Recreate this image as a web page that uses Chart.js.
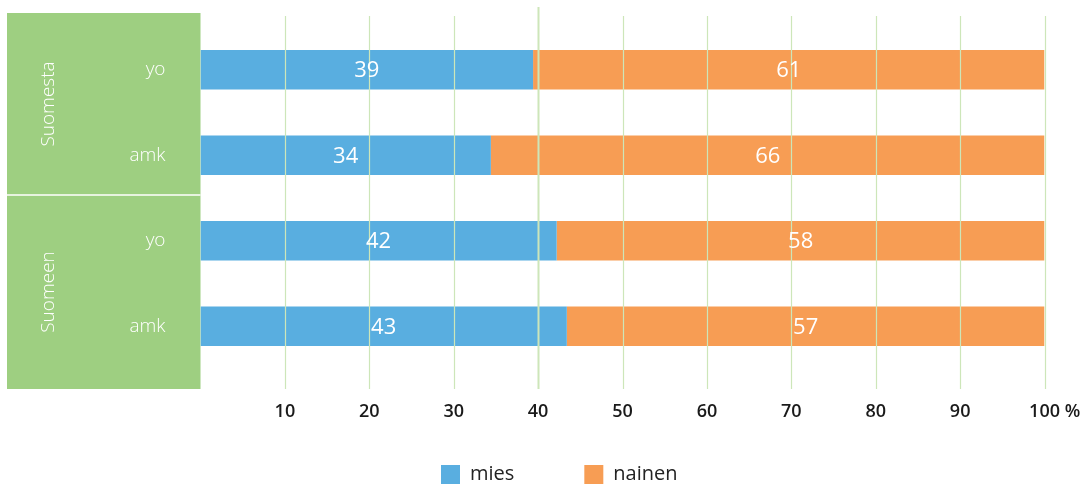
<!DOCTYPE html>
<html>
<head>
<meta charset="utf-8">
<script src="https://cdn.jsdelivr.net/npm/chart.js@4"></script>
<style>
  html, body { margin: 0; padding: 0; background: #fff; }
  #wrap { width: 1092px; height: 490px; position: relative; }
</style>
</head>
<body>
<div id="wrap"><canvas id="c"></canvas></div>
<script>
const groups = ['Suomesta', 'Suomeen'];
const categories = ['yo', 'amk', 'yo', 'amk'];
const seriesNames = ['mies', 'nainen'];
const miesValues = [39.4, 34.4, 42.2, 43.4];
const nainenValues = [60.6, 65.6, 57.8, 56.6];
const tickValues = [10, 20, 30, 40, 50, 60, 70, 80, 90, 100];
const tickSuffix = '%';

const BLUE = '#59aee0';
const ORANGE = '#f79d54';
const PANEL = '#9ecf81';
const GRID = '#cde6b9';
const FONT = "'Open Sans', 'DejaVu Sans', sans-serif";

const panelPlugin = {
  id: 'panel',
  afterLayout(chart) {
    // let the x tick labels draw below the (shortened) axis box
    chart.scales.x.bottom = chart.height;
  },
  beforeDraw(chart) {
    const {ctx, chartArea: ca, scales: {y}} = chart;
    const left = 7, top = ca.top - 14, bottom = ca.bottom + 20, right = ca.left;
    ctx.save();
    ctx.fillStyle = PANEL;
    ctx.fillRect(left, top, right - left, bottom - top);
    const gs = categories.length / groups.length;
    const bounds = [top];
    for (let g = 1; g < groups.length; g++) {
      const yd = (y.getPixelForValue(g * gs - 1) + y.getPixelForValue(g * gs)) / 2 - 3;
      bounds.push(yd);
      ctx.strokeStyle = 'rgba(255,255,255,0.75)';
      ctx.lineWidth = 2;
      ctx.beginPath();
      ctx.moveTo(left, yd);
      ctx.lineTo(right, yd);
      ctx.stroke();
    }
    bounds.push(bottom);
    ctx.fillStyle = '#ffffff';
    ctx.font = '300 19px ' + FONT;
    ctx.textAlign = 'center';
    ctx.textBaseline = 'middle';
    groups.forEach((g, i) => {
      const cy = (bounds[i] + bounds[i + 1]) / 2;
      ctx.save();
      ctx.translate(49, cy);
      ctx.rotate(-Math.PI / 2);
      ctx.fillText(g, 0, 0);
      ctx.restore();
    });
    ctx.restore();
  }
};

const overlayPlugin = {
  id: 'overlay',
  afterDatasetsDraw(chart) {
    const {ctx, chartArea: ca, scales: {x}} = chart;
    ctx.save();
    tickValues.forEach(v => {
      const px = Math.round(x.getPixelForValue(v)) + 0.5;
      const isMain = v === 40;
      ctx.strokeStyle = GRID;
      ctx.lineWidth = isMain ? 2 : 1.2;
      ctx.beginPath();
      ctx.moveTo(px, ca.top - (isMain ? 20 : 11));
      ctx.lineTo(px, ca.bottom + 20);
      ctx.stroke();
    });
    ctx.fillStyle = '#ffffff';
    ctx.font = '22px ' + FONT;
    ctx.textAlign = 'center';
    ctx.textBaseline = 'middle';
    chart.data.datasets.forEach((ds, di) => {
      const meta = chart.getDatasetMeta(di);
      meta.data.forEach((el, i) => {
        const p = el.getCenterPoint();
        ctx.fillText(String(Math.round(ds.data[i])), p.x, p.y + 1);
      });
    });
    ctx.restore();
  },
  afterDraw(chart) {
    const {ctx, chartArea: ca, scales: {x}} = chart;
    const last = tickValues[tickValues.length - 1];
    const px = x.getPixelForValue(last);
    ctx.save();
    ctx.font = '600 18px ' + FONT;
    const w = ctx.measureText(String(last)).width;
    const space = ctx.measureText(' ').width;
    ctx.fillStyle = '#1a1a1a';
    ctx.textAlign = 'left';
    ctx.textBaseline = 'middle';
    ctx.fillText(tickSuffix, px + w / 2 + space, ca.bottom + 32 + 10.8);
    ctx.restore();
  }
};

new Chart(document.getElementById('c'), {
  type: 'bar',
  data: {
    labels: categories,
    datasets: [
      { label: seriesNames[0], data: miesValues, backgroundColor: BLUE, borderWidth: 0 },
      { label: seriesNames[1], data: nainenValues, backgroundColor: ORANGE, borderWidth: 0 }
    ]
  },
  options: {
    indexAxis: 'y',
    responsive: true,
    maintainAspectRatio: false,
    animation: false,
    barPercentage: 0.4625,
    categoryPercentage: 1,
    layout: { padding: { left: 73, right: 46.5, top: 27, bottom: -4.5 } },
    scales: {
      x: {
        stacked: true,
        min: 0,
        max: 100,
        afterBuildTicks: s => { s.ticks = tickValues.map(v => ({ value: v })); },
        afterFit: s => { s.height = 25.5; },
        grid: { display: false, drawTicks: false },
        border: { display: false },
        ticks: {
          padding: 32,
          color: '#1a1a1a',
          font: { family: FONT, size: 18, weight: '600' },
          maxRotation: 0,
          autoSkip: false
        }
      },
      y: {
        stacked: true,
        afterFit: s => { s.width = 127.5; s.paddingTop = 0; s.paddingBottom = 0; },
        grid: { display: false, drawTicks: false },
        border: { display: false },
        ticks: {
          padding: 35,
          color: '#ffffff',
          font: { family: FONT, size: 19, weight: '300' }
        }
      }
    },
    plugins: {
      tooltip: { enabled: false },
      legend: {
        position: 'bottom',
        labels: {
          boxWidth: 19,
          boxHeight: 19,
          padding: 70,
          color: '#222222',
          font: { family: FONT, size: 20 }
        }
      }
    }
  },
  plugins: [panelPlugin, overlayPlugin]
});
</script>
</body>
</html>
